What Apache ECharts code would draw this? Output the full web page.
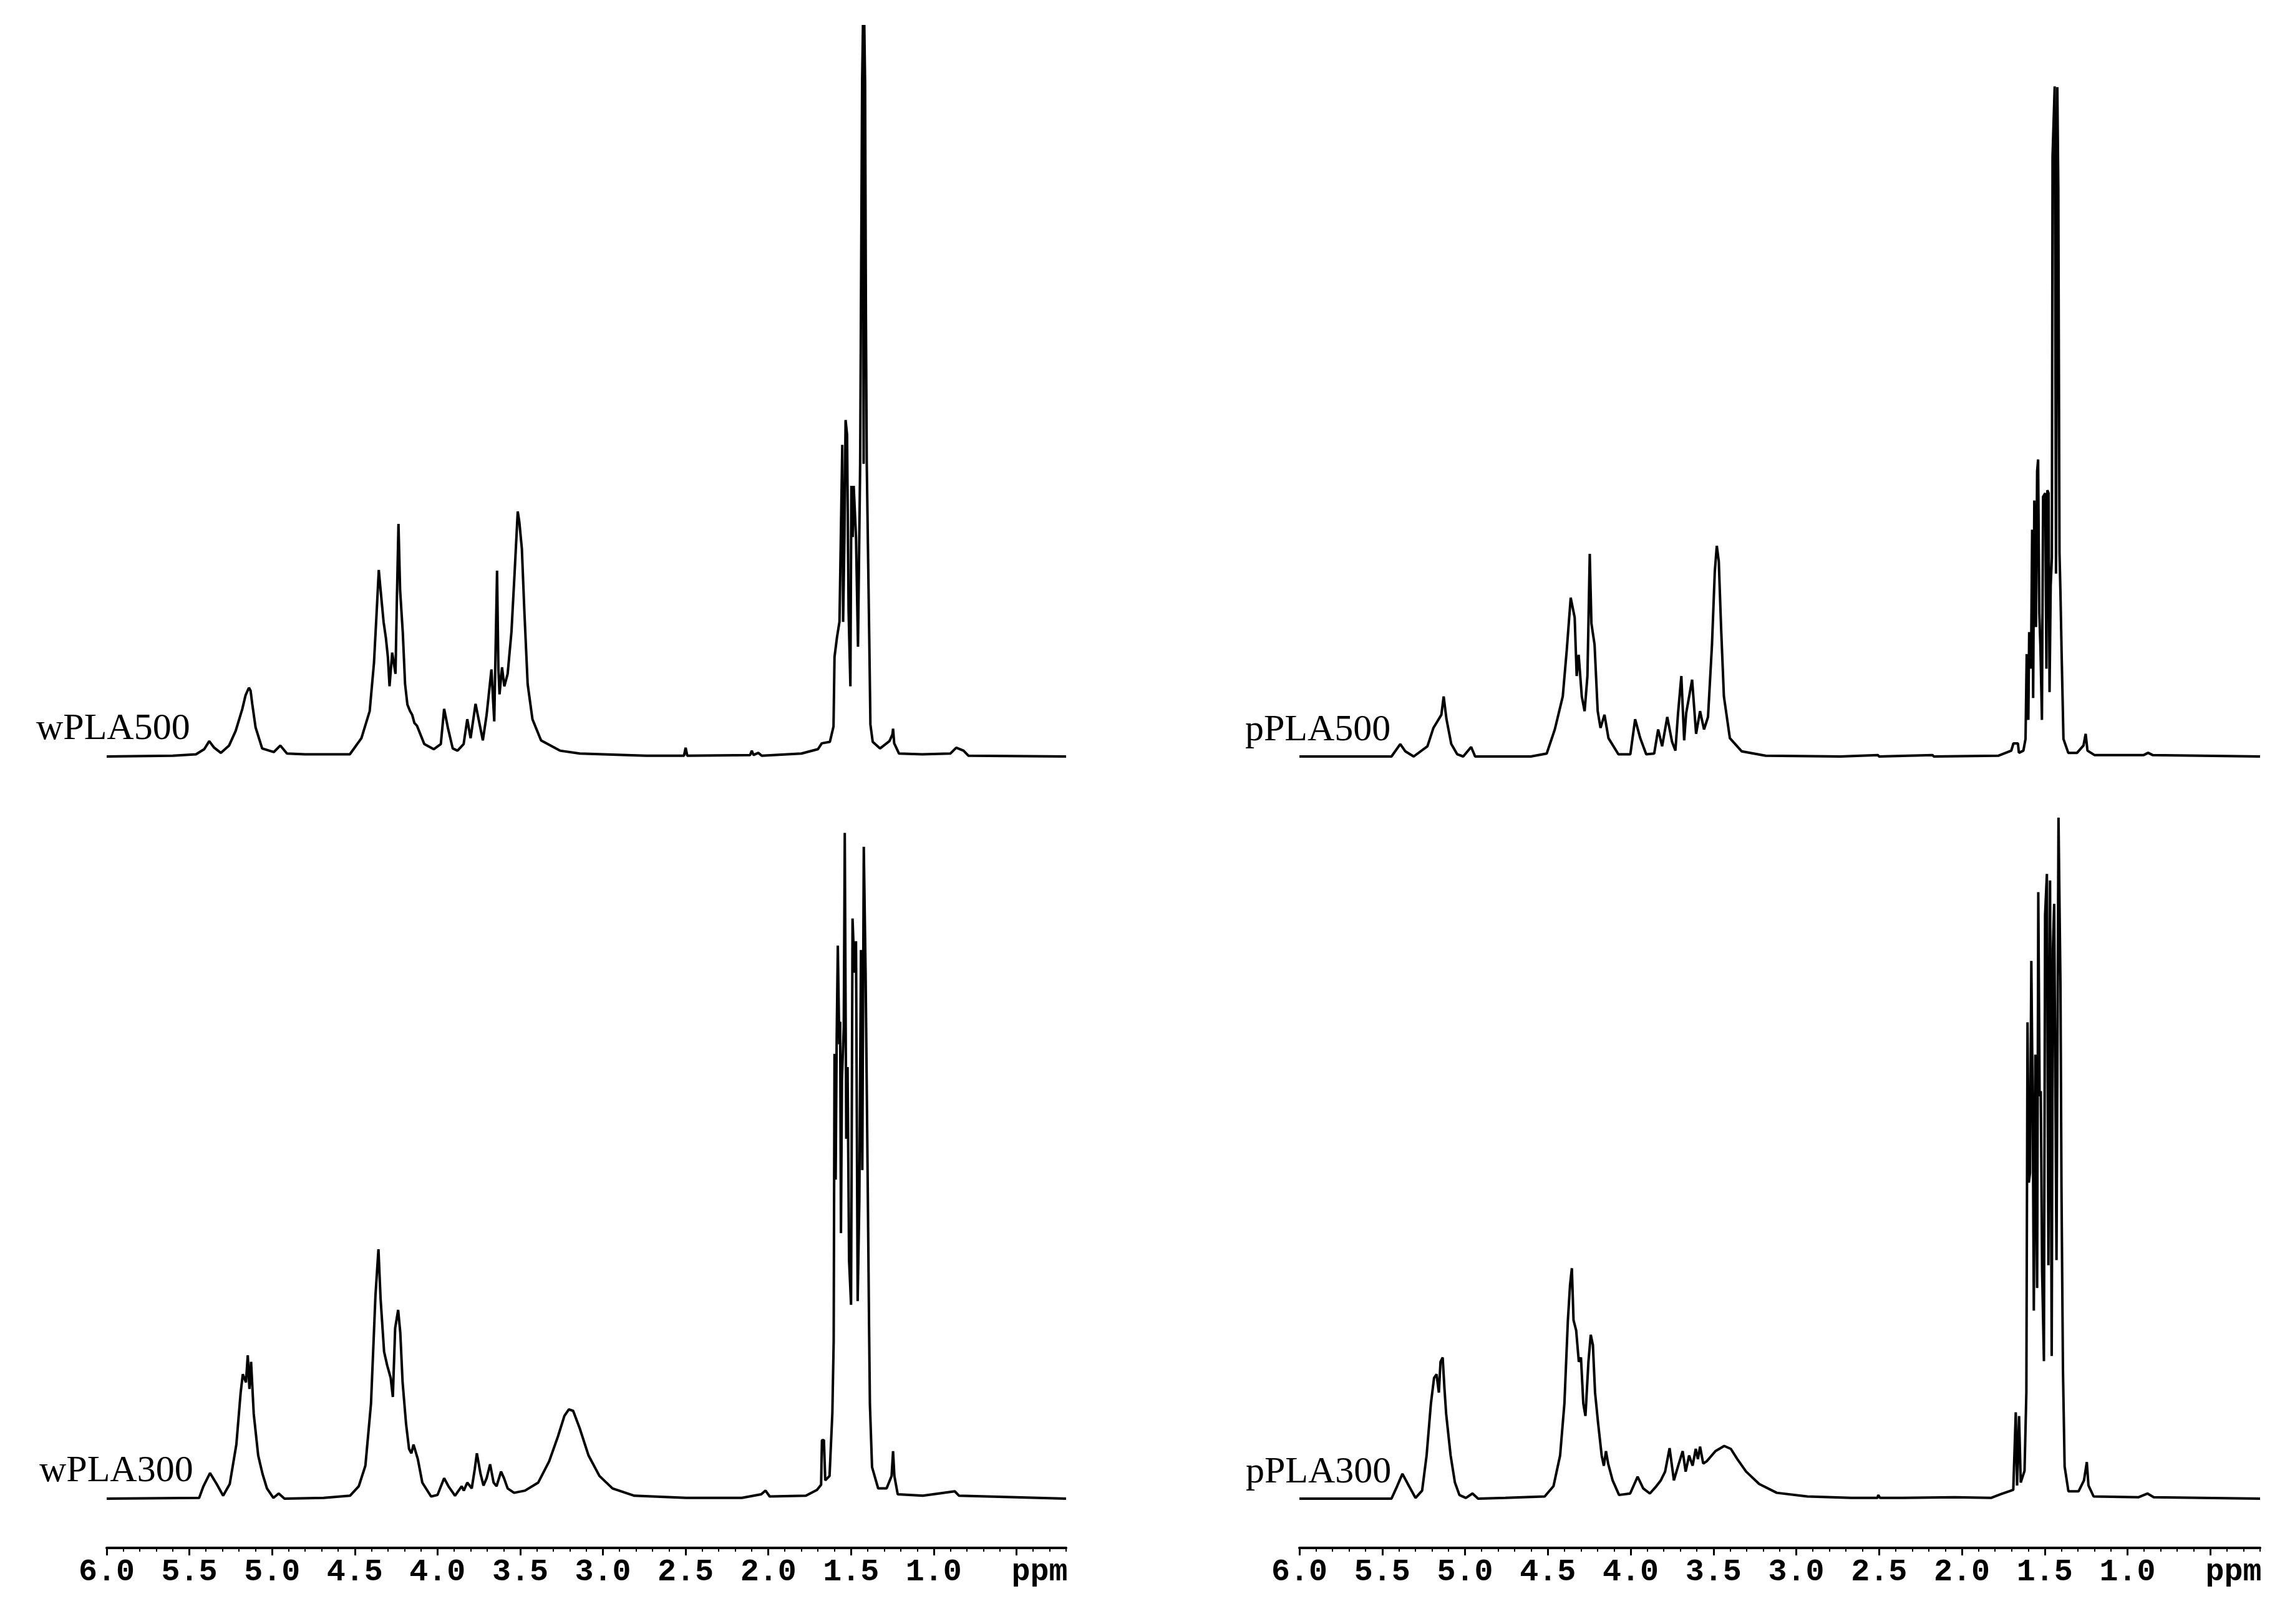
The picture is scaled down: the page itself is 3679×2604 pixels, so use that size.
<!DOCTYPE html>
<html>
<head>
<meta charset="utf-8">
<title>1H NMR spectra of wPLA / pPLA</title>
<script src="https://cdn.jsdelivr.net/npm/echarts@6/dist/echarts.min.js"></script>
<style>
  html, body { margin: 0; padding: 0; background: #fff; }
  #chart { width: 3679px; height: 2604px; }
</style>
</head>
<body>
<div id="chart"></div>
<script>
// [chemical shift (ppm), intensity], intensity scaled so the tallest wPLA500 line = 100
const wPLA500 = [
  [6.0,0],[5.60,0.1],[5.46,0.3],[5.41,1.0],[5.38,2.1],[5.35,1.2],[5.31,0.5],[5.26,1.5],[5.22,3.5],[5.18,6.5],
  [5.16,8.4],[5.14,9.4],[5.13,9.0],[5.12,7.2],[5.10,4.0],[5.06,1.1],[4.99,0.6],[4.95,1.5],[4.91,0.4],[4.80,0.3],
  [4.53,0.3],[4.46,2.5],[4.41,6.2],[4.384,12.8],[4.365,21],[4.355,25.5],[4.345,23],[4.326,18.4],[4.312,16.2],[4.30,13.6],
  [4.29,9.6],[4.274,14.2],[4.254,11.3],[4.246,21],[4.236,31.8],[4.226,22.7],[4.21,17],[4.196,9.9],[4.182,7.1],[4.166,6.2],
  [4.153,5.7],[4.14,4.6],[4.124,4.2],[4.08,1.7],[4.023,1.0],[3.98,1.7],[3.96,6.5],[3.937,3.9],[3.908,1.1],[3.879,0.8],
  [3.842,1.7],[3.82,5.1],[3.80,2.5],[3.77,7.2],[3.749,4.8],[3.726,2.2],[3.703,5.7],[3.674,11.9],[3.657,4.8],[3.640,25.4],
  [3.632,12],[3.625,8.5],[3.61,12.2],[3.596,9.6],[3.576,11.3],[3.553,17],[3.533,25.5],[3.515,33.5],[3.505,32],[3.49,28.4],
  [3.475,19.9],[3.455,9.9],[3.426,5.1],[3.374,2.2],[3.26,0.8],[3.14,0.4],[2.74,0.1],[2.51,0.1],[2.50,1.2],[2.49,0.1],
  [2.11,0.2],[2.10,0.8],[2.09,0.2],[2.06,0.5],[2.04,0.1],[1.80,0.4],[1.70,1.0],[1.677,1.8],[1.628,2.0],[1.606,4.1],
  [1.600,13.6],[1.585,16.3],[1.570,18.4],[1.559,34],[1.553,42.6],[1.548,18.4],[1.540,30],[1.533,46],[1.524,44],[1.515,20],
  [1.504,9.6],[1.498,37],[1.490,30],[1.484,37],[1.470,30],[1.458,15],[1.445,40],[1.433,92.5],[1.428,100],[1.424,40],
  [1.420,100],[1.415,92],[1.410,60],[1.405,40],[1.39,16.3],[1.383,4.4],[1.369,2.0],[1.325,1.1],[1.268,2.1],[1.250,3.0],
  [1.246,3.8],[1.239,1.8],[1.21,0.4],[1.07,0.3],[0.90,0.4],[0.864,1.2],[0.82,0.8],[0.79,0.1],[0.2,0]
];

const pPLA500 = [
  [6.0,0],[5.444,0],[5.391,1.7],[5.36,0.7],[5.31,0],[5.227,1.4],[5.191,3.9],[5.167,4.8],[5.143,5.7],[5.129,8.2],
  [5.112,5.1],[5.083,1.7],[5.047,0.3],[5.011,0],[4.963,1.3],[4.939,0],[4.603,0],[4.507,0.4],[4.458,3.7],[4.41,8.2],
  [4.386,14.5],[4.362,21.7],[4.338,19],[4.326,11],[4.314,13.9],[4.295,8.2],[4.278,6.2],[4.261,11],[4.247,27.7],[4.237,18.2],
  [4.218,15.3],[4.199,6.2],[4.182,3.9],[4.158,5.7],[4.134,2.5],[4.074,0.3],[4.002,0.3],[3.973,5.1],[3.942,2.5],[3.906,0.3],
  [3.858,0.4],[3.834,3.7],[3.81,1.4],[3.779,5.4],[3.75,2.0],[3.73,0.8],[3.714,5.9],[3.694,11],[3.677,2.2],[3.665,5.9],
  [3.629,10.5],[3.605,3.1],[3.581,6.2],[3.557,3.7],[3.533,5.4],[3.509,15.3],[3.492,25.3],[3.48,28.8],[3.468,26.7],[3.454,17.6],
  [3.437,8.2],[3.401,2.5],[3.329,0.7],[3.185,0.1],[2.733,0],[2.508,0.2],[2.50,0],[2.178,0.2],[2.17,0],[1.781,0.1],
  [1.702,0.8],[1.689,1.8],[1.662,1.8],[1.656,0.5],[1.629,0.8],[1.616,2.4],[1.609,14],[1.599,5],[1.594,17],[1.583,12],
  [1.576,31],[1.57,8],[1.563,35],[1.553,17.7],[1.546,39],[1.540,40.6],[1.533,19.6],[1.526,15],[1.517,5],[1.51,35.5],
  [1.497,36],[1.49,12],[1.484,36.4],[1.477,36],[1.471,8.8],[1.464,23.4],[1.457,27.2],[1.453,82],[1.44,91.6],[1.432,25],
  [1.424,91.5],[1.418,77.5],[1.411,27.9],[1.405,22.2],[1.398,14],[1.387,2.4],[1.358,0.5],[1.305,0.5],[1.266,1.5],[1.253,3.1],
  [1.242,0.8],[1.2,0.2],[0.902,0.2],[0.876,0.5],[0.849,0.2],[0.2,0]
];

const wPLA300 = [
  [6.0,0],[5.441,0.1],[5.415,1.7],[5.375,3.5],[5.335,2.0],[5.296,0.4],[5.256,2.0],[5.216,7.4],[5.19,14.5],[5.177,17],
  [5.158,15.9],[5.147,19.6],[5.137,15],[5.127,18.7],[5.111,11.6],[5.084,5.9],[5.058,3.4],[5.031,1.4],[4.992,0.1],[4.96,0.7],
  [4.925,0],[4.688,0.1],[4.529,0.4],[4.476,1.7],[4.436,4.5],[4.402,13],[4.375,27.8],[4.357,34.1],[4.344,27.3],[4.323,20.1],
  [4.304,18.2],[4.283,16.5],[4.27,13.9],[4.256,23.3],[4.238,25.8],[4.225,22.7],[4.211,15.9],[4.19,10.2],[4.172,6.8],[4.158,6.2],
  [4.145,7.4],[4.119,5.4],[4.092,2.2],[4.039,0.3],[4.0,0.5],[3.96,2.8],[3.934,1.7],[3.894,0.4],[3.854,1.7],[3.841,1.1],
  [3.82,2.2],[3.793,1.4],[3.775,4.0],[3.762,6.2],[3.74,3.4],[3.722,1.8],[3.703,2.8],[3.682,4.7],[3.661,2.2],[3.643,1.7],
  [3.616,3.7],[3.598,2.8],[3.576,1.4],[3.537,0.8],[3.471,1.1],[3.391,2.2],[3.325,5.1],[3.272,8.5],[3.233,11.3],[3.206,12.2],
  [3.18,12.0],[3.14,9.6],[3.087,5.9],[3.021,3.1],[2.942,1.4],[2.81,0.4],[2.497,0.1],[2.16,0.1],[2.043,0.6],[2.017,1.1],
  [1.992,0.3],[1.773,0.4],[1.706,1.2],[1.681,1.9],[1.676,8],[1.664,8],[1.656,2.5],[1.63,3.1],[1.613,11.7],[1.605,21.5],
  [1.6,60.8],[1.593,43.6],[1.587,62.7],[1.58,75.6],[1.571,62.1],[1.566,65.2],[1.561,36.3],[1.555,57.2],[1.544,64.5],[1.538,91],
  [1.529,49.2],[1.521,59],[1.512,32.6],[1.5,26.5],[1.491,79.3],[1.479,71.9],[1.47,76.2],[1.46,27],[1.45,40.6],[1.44,75],
  [1.432,44.9],[1.423,89.1],[1.412,71.9],[1.4,44.9],[1.391,23.4],[1.386,12.9],[1.373,4.3],[1.336,1.4],[1.285,1.4],[1.255,3.1],
  [1.246,6.5],[1.238,3.1],[1.218,0.6],[1.066,0.4],[0.873,1.0],[0.847,0.4],[0.2,0]
];

const pPLA300 = [
  [6.0,0],[5.444,0],[5.41,1.7],[5.378,3.4],[5.338,1.7],[5.299,0.1],[5.259,1.1],[5.232,5.9],[5.206,13],[5.187,16.5],
  [5.172,17],[5.158,14.5],[5.148,18.7],[5.135,19.3],[5.124,15],[5.114,11.6],[5.087,5.9],[5.061,2.2],[5.034,0.5],[4.995,0.1],
  [4.955,0.7],[4.921,0],[4.757,0.1],[4.519,0.3],[4.466,1.7],[4.426,5.9],[4.4,13],[4.379,24.4],[4.366,29.2],[4.355,31.5],
  [4.345,24.4],[4.329,23],[4.313,18.7],[4.3,19.3],[4.286,13],[4.273,11.3],[4.255,18.7],[4.241,22.4],[4.228,21],[4.215,14.5],
  [4.196,10.2],[4.175,5.9],[4.162,4.5],[4.149,6.5],[4.136,4.8],[4.109,2.5],[4.07,0.5],[4.003,0.7],[3.958,3.0],[3.924,1.4],
  [3.884,0.7],[3.845,1.7],[3.818,2.5],[3.792,3.7],[3.765,6.9],[3.739,2.5],[3.713,4.5],[3.686,6.5],[3.668,3.7],[3.647,5.9],
  [3.626,4.5],[3.607,6.8],[3.594,5.4],[3.581,7.1],[3.562,4.8],[3.541,5.1],[3.488,6.5],[3.435,7.2],[3.395,6.8],[3.356,5.4],
  [3.303,3.7],[3.224,2.0],[3.118,0.8],[2.933,0.3],[2.669,0.1],[2.51,0.1],[2.505,0.5],[2.495,0.1],[2.357,0.1],[2.044,0.2],
  [1.825,0.1],[1.766,0.6],[1.69,1.2],[1.675,11.8],[1.667,1.8],[1.655,11.3],[1.645,2.2],[1.622,3.8],[1.611,14.5],[1.604,65.1],
  [1.596,43.2],[1.589,44.5],[1.581,73.5],[1.572,51.8],[1.566,25.7],[1.557,60.7],[1.546,28.8],[1.539,82.9],[1.531,55],[1.524,55.7],
  [1.516,31.3],[1.505,18.8],[1.498,79.8],[1.487,85.4],[1.478,31.9],[1.468,84.5],[1.458,19.5],[1.451,75.1],[1.443,81.3],[1.429,32.6],
  [1.417,93.1],[1.405,70.1],[1.399,42.6],[1.39,17.6],[1.38,4.4],[1.357,1.0],[1.296,1.0],[1.263,2.5],[1.246,5.0],[1.236,1.8],
  [1.205,0.3],[0.933,0.2],[0.88,0.7],[0.842,0.2],[0.2,0]
];

const sampleNames = ['wPLA500', 'pPLA500', 'wPLA300', 'pPLA300'];
const spectra = [wPLA500, pPLA500, wPLA300, pPLA300];

// ppm axis ticks
const majorTicks = [6.0, 5.5, 5.0, 4.5, 4.0, 3.5, 3.0, 2.5, 2.0, 1.5, 1.0, 0.5];
const minorTicks = [6.0, 5.9, 5.8, 5.7, 5.6, 5.5, 5.4, 5.3, 5.2, 5.1, 5.0, 4.9, 4.8, 4.7, 4.6, 4.5, 4.4, 4.3, 4.2, 4.1,
  4.0, 3.9, 3.8, 3.7, 3.6, 3.5, 3.4, 3.3, 3.2, 3.1, 3.0, 2.9, 2.8, 2.7, 2.6, 2.5, 2.4, 2.3, 2.2, 2.1,
  2.0, 1.9, 1.8, 1.7, 1.6, 1.5, 1.4, 1.3, 1.2, 1.1, 1.0, 0.9, 0.8, 0.7, 0.6, 0.5, 0.4, 0.3, 0.2];
const tickLabels = [6.0, 5.5, 5.0, 4.5, 4.0, 3.5, 3.0, 2.5, 2.0, 1.5, 1.0];
const unitLabelAt = 0.36; // where "ppm" sits under the axis

const chart = echarts.init(document.getElementById('chart'));

const grids = [
  { left: 171, width: 1538, top: 40, height: 1173 },
  { left: 2083, width: 1540, top: 40, height: 1173 },
  { left: 171, width: 1538, top: 1230, height: 1252 },
  { left: 2083, width: 1540, top: 1230, height: 1252 }
];

function baseX (gridIndex) {
  return {
    type: 'value',
    gridIndex: gridIndex,
    inverse: true,
    min: 0.2,
    max: 6.0,
    position: 'bottom',
    splitLine: { show: false }
  };
}

const xAxes = [];
const yAxes = [];
for (let i = 0; i < 4; i++) {
  const ax = baseX(i);
  if (i < 2) {
    ax.show = false;
  } else {
    ax.axisLine = { show: true, onZero: false, lineStyle: { color: '#000', width: 4 } };
    ax.axisTick = { show: true, customValues: majorTicks, length: 12, lineStyle: { color: '#000', width: 3 } };
    ax.axisLabel = {
      show: true,
      customValues: tickLabels.concat([unitLabelAt]),
      formatter: function (v) { return v === unitLabelAt ? 'ppm' : v.toFixed(1); },
      margin: 14,
      hideOverlap: false,
      color: '#000',
      fontFamily: 'Liberation Mono',
      fontWeight: 'bold',
      fontSize: 50
    };
  }
  xAxes.push(ax);
  yAxes.push({
    type: 'value',
    gridIndex: i,
    show: false,
    min: i < 2 ? 0 : -6.735,
    max: 100,
    splitLine: { show: false }
  });
}
// minor ticks on the two visible ppm axes
for (let i = 2; i < 4; i++) {
  const ax = baseX(i);
  ax.axisLine = { show: false, onZero: false };
  ax.axisTick = { show: true, customValues: minorTicks, length: 6, lineStyle: { color: '#000', width: 2 } };
  ax.axisLabel = { show: false };
  xAxes.push(ax);
}

const labelPos = [[58, 1169], [1996, 1171], [63, 2359], [1997, 2361]];

const option = {
  backgroundColor: '#fff',
  animation: false,
  grid: grids,
  xAxis: xAxes,
  yAxis: yAxes,
  graphic: sampleNames.map(function (name, i) {
    return {
      type: 'text',
      x: labelPos[i][0],
      y: labelPos[i][1],
      style: {
        text: name,
        font: '60px "Liberation Serif"',
        fill: '#000',
        align: 'left',
        verticalAlign: 'middle',
        textAlign: 'left',
        textVerticalAlign: 'middle'
      }
    };
  }),
  series: spectra.map(function (d, i) {
    return {
      type: 'line',
      name: sampleNames[i],
      xAxisIndex: i,
      yAxisIndex: i,
      data: d,
      showSymbol: false,
      symbol: 'none',
      silent: true,
      lineStyle: { color: '#000', width: 4 }
    };
  })
};

chart.setOption(option);
</script>
</body>
</html>
